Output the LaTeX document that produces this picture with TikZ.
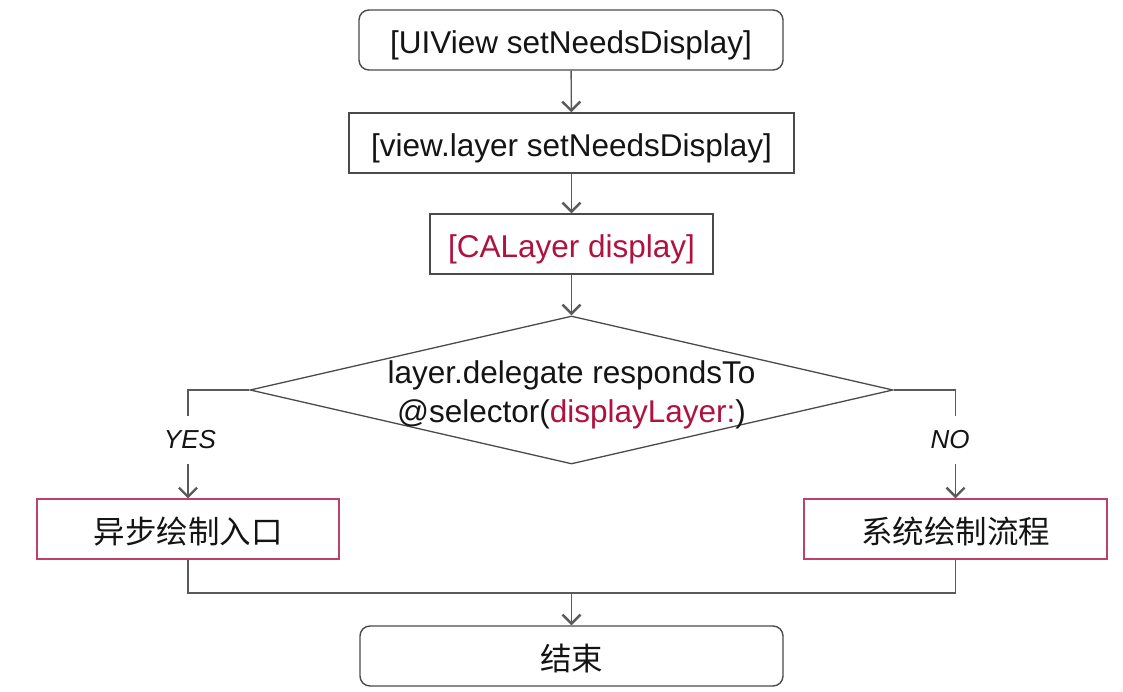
\documentclass[tikz,border=0pt]{standalone}
\usepackage{fontspec}
\setmainfont{Liberation Sans}
\newfontfamily\cjk{Noto Sans CJK SC}
\usetikzlibrary{arrows.meta,shapes.geometric}
\definecolor{lnc}{HTML}{5A5A5A}
\definecolor{boxc}{HTML}{4A4A4A}
\definecolor{redt}{HTML}{B0123F}
\definecolor{redb}{HTML}{C0406A}
\definecolor{txt}{HTML}{141414}
\tikzset{
  base/.style={draw=boxc, line width=1.4pt, inner sep=0pt, text=txt,
    font=\fontsize{31.5}{39}\selectfont, minimum height=60pt,
    text height=32pt, text depth=4pt},
  rbox/.style={base, rounded corners=10pt},
  sbox/.style={base},
  redbox/.style={base, draw=redb, line width=1.2pt},
  conn/.style={draw=lnc, line width=1.4pt},
  arr/.style={conn, -{Straight Barb[length=9pt,width=18pt,line width=2.4pt]}},
  lab/.style={fill=white, inner sep=0pt, minimum height=48pt, text=txt,
    font=\fontsize{26}{30}\selectfont\itshape},
}
\begin{document}
\begin{tikzpicture}[x=1pt,y=-1pt]
\useasboundingbox[fill=white] (0,0) rectangle (1123,692);
\node[rbox, minimum width=424pt] (a) at (571,40) {[UIView setNeedsDisplay]};
\node[sbox, minimum width=445pt] (b) at (571.5,143) {[view.layer setNeedsDisplay]};
\node[sbox, minimum width=283pt, text=redt] (c) at (571.5,244) {[CALayer display]};
\node[diamond, draw=boxc, line width=1.3pt, minimum width=643pt, minimum height=148pt, inner sep=0pt] (d) at (571.5,390) {};
\node[align=center, text=txt, font=\fontsize{31.5}{39}\selectfont, inner sep=0pt] (dt) at (571.5,395) {layer.delegate respondsTo\\@selector(\textcolor{redt}{displayLayer:})};
\node[redbox, minimum width=302pt] (y) at (188,529) {\cjk 异步绘制入口};
\node[redbox, minimum width=303pt] (n) at (955.5,529) {\cjk 系统绘制流程};
\node[rbox, minimum width=423pt] (e) at (571.5,656) {\cjk 结束};
\coordinate (m) at (571.5,593);
\draw[arr] (a) -- (b);
\draw[arr] (b) -- (c);
\draw[arr] (c) -- (d.north);
\draw[arr] (d.west) -| (y.north);
\draw[arr] (d.east) -| (n.north);
\node[lab] (yes) at (190,440) {YES};
\node[lab] (no) at (950,440) {NO};
\draw[conn] (y.south) |- (m) -| (n.south);
\draw[arr] (m) -- (e.north);
\end{tikzpicture}
\end{document}
